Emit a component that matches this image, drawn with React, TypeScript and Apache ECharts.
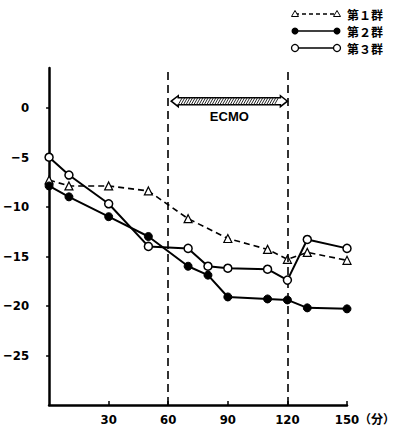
import React, { useEffect, useRef } from "react";
import * as echarts from "echarts";

const minutes1 = [0, 10, 30, 50, 70, 90, 110, 120, 130, 150];
const group1 = [-7.3, -7.9, -7.9, -8.4, -11.2, -13.2, -14.3, -15.3, -14.6, -15.4];
const minutes2 = [0, 10, 30, 50, 70, 80, 90, 110, 120, 130, 150];
const group2 = [-7.9, -9.0, -11.0, -13.0, -16.0, -16.9, -19.1, -19.3, -19.4, -20.2, -20.3];
const minutes3 = [0, 10, 30, 50, 70, 80, 90, 110, 120, 130, 150];
const group3 = [-5.0, -6.8, -9.7, -14.0, -14.2, -16.0, -16.2, -16.3, -17.4, -13.3, -14.2];
const seriesNames = ["第１群", "第２群", "第３群"];
const xTicks = [30, 60, 90, 120, 150];
const yTicks = [-25, -20, -15, -10, -5, 0];
const ecmoStart = 60;
const ecmoEnd = 120;
const ecmoLabel = "ECMO";
const unitLabel = "（分）";

const NUM_FONT = "'Liberation Sans Narrow', 'DejaVu Sans Condensed', 'Liberation Sans', sans-serif";
const YNUM_FONT = "'DejaVu Sans Condensed', 'DejaVu Sans', sans-serif";
const JP_FONT = "'Noto Sans CJK JP', sans-serif";

export default function App() {
  const ref = useRef<HTMLDivElement>(null);
  useEffect(() => {
    document.body.style.margin = "0";
    const chart = echarts.init(ref.current!, null, { renderer: "svg" });
    const zip = (xs: number[], ys: number[]) => xs.map((x, i) => [x, ys[i]]);
    chart.setOption({
      animation: false,
      backgroundColor: "#fff",
      grid: { left: 48, right: 47, top: 68, bottom: 25, containLabel: false },
      xAxis: {
        type: "value",
        min: 0,
        max: 150,
        interval: 30,
        axisLine: { onZero: false, lineStyle: { color: "#000", width: 2.5 } },
        axisTick: { show: true, inside: true, length: 4, lineStyle: { color: "#000", width: 1.5 }, customValues: xTicks },
        axisLabel: {
          customValues: xTicks,
          margin: 8,
          color: "#000",
          fontFamily: NUM_FONT,
          fontWeight: "bold",
          fontSize: 13,
        },
        splitLine: { show: false },
      },
      yAxis: {
        type: "value",
        min: -30,
        max: 4,
        interval: 5,
        axisLine: { onZero: false, lineStyle: { color: "#000", width: 2.5 } },
        axisTick: { show: true, length: 3, lineStyle: { color: "#000", width: 1.5 }, customValues: yTicks },
        axisLabel: {
          customValues: yTicks,
          margin: 20,
          color: "#000",
          fontFamily: YNUM_FONT,
          fontWeight: "bold",
          fontSize: 13,
          formatter: (v: number) => (v === 0 ? "0" : "−" + Math.abs(v)),
        },
        splitLine: { show: false },
      },
      series: [
        {
          name: seriesNames[0],
          type: "line",
          data: zip(minutes1, group1),
          symbol: "triangle",
          symbolSize: 8,
          itemStyle: { color: "#fff", borderColor: "#000", borderWidth: 1.2 },
          lineStyle: { color: "#000", width: 1.6, type: [6, 4] },
          z: 3,
          markLine: {
            silent: true,
            symbol: "none",
            label: { show: false },
            lineStyle: { color: "#000", width: 1.6, type: [8, 5] },
            data: [{ xAxis: ecmoStart }, { xAxis: ecmoEnd }],
          },
        },
        {
          name: seriesNames[1],
          type: "line",
          data: zip(minutes2, group2),
          symbol: "circle",
          symbolSize: 8,
          itemStyle: { color: "#000", borderColor: "#000", borderWidth: 1 },
          lineStyle: { color: "#000", width: 2 },
          z: 4,
        },
        {
          name: seriesNames[2],
          type: "line",
          data: zip(minutes3, group3),
          symbol: "circle",
          symbolSize: 8,
          itemStyle: { color: "#fff", borderColor: "#000", borderWidth: 1.5 },
          lineStyle: { color: "#000", width: 2 },
          z: 5,
        },
      ],
    });

    const [xL, yc] = chart.convertToPixel({ gridIndex: 0 }, [ecmoStart, 0.65]) as number[];
    const [xR] = chart.convertToPixel({ gridIndex: 0 }, [ecmoEnd, 0.65]) as number[];
    const [xUnitRef, yAxisBottom] = chart.convertToPixel({ gridIndex: 0 }, [150, -30]) as number[];
    const l = xL + 3;
    const r = xR;
    const h = 3.5;
    const graphics: any[] = [];
    // ECMO hatched double arrow
    graphics.push({
      type: "polygon",
      shape: {
        points: [
          [l, yc], [l + 7, yc - h - 2], [l + 7, yc - h], [r - 7, yc - h], [r - 7, yc - h - 2],
          [r, yc], [r - 7, yc + h + 2], [r - 7, yc + h], [l + 7, yc + h], [l + 7, yc + h + 2],
        ],
      },
      style: { fill: "#fff", stroke: "#000", lineWidth: 1.5 },
      z: 10,
    });
    for (let x = l + 7; x + 4 <= r - 7; x += 2.6) {
      graphics.push({
        type: "line",
        shape: { x1: x, y1: yc + h, x2: x + 4, y2: yc - h },
        style: { stroke: "#222", lineWidth: 1 },
        z: 11,
      });
    }
    graphics.push({
      type: "text",
      x: (l + r) / 2,
      y: yc + 15,
      style: { text: ecmoLabel, fill: "#000", font: `bold 13px 'Liberation Sans', sans-serif`, align: "center", verticalAlign: "middle" },
      z: 11,
    });
    // unit label
    graphics.push({
      type: "text",
      x: xUnitRef + 12,
      y: yAxisBottom + 13,
      style: { text: unitLabel, fill: "#000", font: `bold 12px ${JP_FONT}`, align: "left", verticalAlign: "middle" },
    });
    // legend
    const lx1 = 295, lx2 = 337, tx = 347;
    const rows = [14, 31, 48];
    const tri = (cx: number, cy: number) => ({
      type: "polygon",
      shape: { points: [[cx, cy - 3.5], [cx + 3.5, cy + 2.5], [cx - 3.5, cy + 2.5]] },
      style: { fill: "#fff", stroke: "#000", lineWidth: 1 },
      z: 12,
    });
    graphics.push({ type: "line", shape: { x1: lx1, y1: rows[0], x2: lx2, y2: rows[0] }, style: { stroke: "#000", lineWidth: 1.3, lineDash: [4, 3] } });
    graphics.push(tri(lx1, rows[0]), tri(lx2, rows[0]));
    graphics.push({ type: "line", shape: { x1: lx1, y1: rows[1], x2: lx2, y2: rows[1] }, style: { stroke: "#000", lineWidth: 1.5 } });
    graphics.push({ type: "circle", shape: { cx: lx1, cy: rows[1], r: 3.5 }, style: { fill: "#000" }, z: 12 });
    graphics.push({ type: "circle", shape: { cx: lx2, cy: rows[1], r: 3.5 }, style: { fill: "#000" }, z: 12 });
    graphics.push({ type: "line", shape: { x1: lx1, y1: rows[2], x2: lx2, y2: rows[2] }, style: { stroke: "#000", lineWidth: 1.5 } });
    graphics.push({ type: "circle", shape: { cx: lx1, cy: rows[2], r: 3.5 }, style: { fill: "#fff", stroke: "#000", lineWidth: 1.3 }, z: 12 });
    graphics.push({ type: "circle", shape: { cx: lx2, cy: rows[2], r: 3.5 }, style: { fill: "#fff", stroke: "#000", lineWidth: 1.3 }, z: 12 });
    seriesNames.forEach((n, i) => {
      graphics.push({
        type: "text",
        x: tx,
        y: rows[i],
        style: { text: n, fill: "#000", font: `bold 12px ${JP_FONT}`, align: "left", verticalAlign: "middle" },
      });
    });
    chart.setOption({ graphic: graphics });
    return () => chart.dispose();
  }, []);
  return <div ref={ref} style={{ width: 394, height: 430 }} />;
}
